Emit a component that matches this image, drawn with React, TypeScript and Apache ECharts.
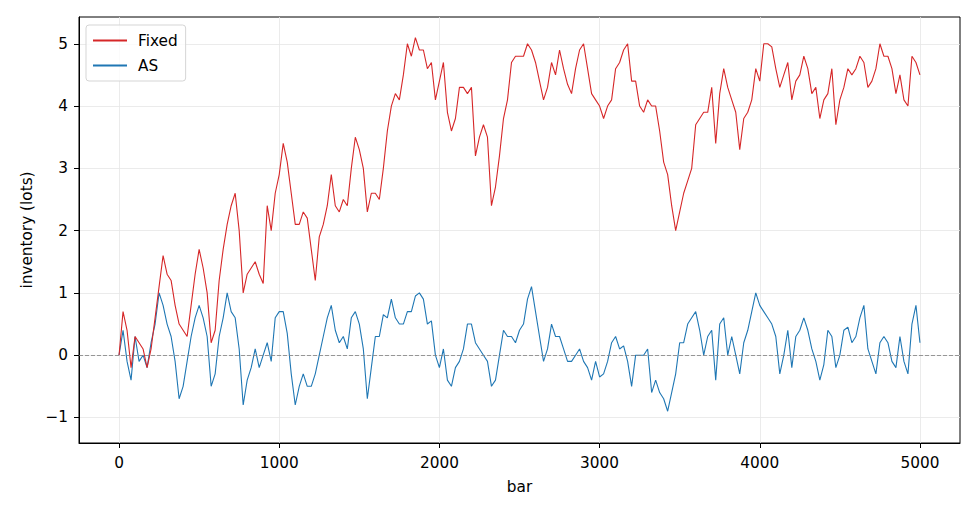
import * as echarts from "echarts";
import { useEffect, useRef } from "react";

const STEP = 25;

const fixedInv = [
  0.0, 0.7, 0.4, -0.2, 0.3, 0.2, 0.1, -0.2,
  0.1, 0.6, 1.1, 1.6, 1.3, 1.2, 0.8, 0.5,
  0.4, 0.3, 0.8, 1.3, 1.7, 1.4, 1.0, 0.2,
  0.4, 1.2, 1.7, 2.1, 2.4, 2.6, 2.0, 1.0,
  1.3, 1.4, 1.5, 1.3, 1.15, 2.4, 2.0, 2.6,
  2.9, 3.4, 3.1, 2.6, 2.1, 2.1, 2.3, 2.2,
  1.7, 1.2, 1.9, 2.1, 2.4, 2.9, 2.4, 2.3,
  2.5, 2.4, 3.0, 3.5, 3.3, 3.0, 2.3, 2.6,
  2.6, 2.5, 3.0, 3.6, 4.0, 4.2, 4.1, 4.5,
  5.0, 4.8, 5.1, 4.9, 4.9, 4.6, 4.7, 4.1,
  4.4, 4.7, 3.9, 3.6, 3.8, 4.3, 4.3, 4.2,
  4.3, 3.2, 3.5, 3.7, 3.5, 2.4, 2.7, 3.2,
  3.8, 4.1, 4.7, 4.8, 4.8, 4.8, 5.0, 4.9,
  4.7, 4.4, 4.1, 4.3, 4.7, 4.5, 4.9, 4.6,
  4.35, 4.2, 4.6, 4.9, 5.0, 4.6, 4.2, 4.1,
  4.0, 3.8, 4.0, 4.1, 4.6, 4.7, 4.9, 5.0,
  4.4, 4.4, 4.0, 3.9, 4.1, 4.0, 4.0, 3.6,
  3.1, 2.9, 2.4, 2.0, 2.3, 2.6, 2.8, 3.0,
  3.7, 3.8, 3.9, 3.9, 4.3, 3.4, 4.2, 4.6,
  4.3, 4.1, 3.9, 3.3, 3.8, 3.9, 4.1, 4.6,
  4.4, 5.0, 5.0, 4.95, 4.6, 4.3, 4.5, 4.7,
  4.1, 4.4, 4.5, 4.8, 4.6, 4.2, 4.3, 3.8,
  4.1, 4.2, 4.6, 3.7, 4.1, 4.3, 4.6, 4.5,
  4.6, 4.8, 4.7, 4.3, 4.4, 4.6, 5.0, 4.8,
  4.8, 4.6, 4.2, 4.5, 4.1, 4.0, 4.8, 4.7,
  4.5,
];

const asInv = [
  0.0, 0.4, -0.1, -0.4, 0.3, -0.1, 0.0, -0.2,
  0.2, 0.5, 1.0, 0.8, 0.5, 0.3, -0.1, -0.7,
  -0.5, -0.1, 0.3, 0.6, 0.8, 0.6, 0.3, -0.5,
  -0.3, 0.3, 0.6, 1.0, 0.7, 0.6, 0.1, -0.8,
  -0.4, -0.2, 0.1, -0.2, 0.0, 0.2, -0.1, 0.6,
  0.7, 0.7, 0.35, -0.3, -0.8, -0.5, -0.3, -0.5,
  -0.5, -0.3, 0.0, 0.3, 0.6, 0.8, 0.4, 0.2,
  0.3, 0.1, 0.6, 0.7, 0.5, 0.1, -0.7, -0.2,
  0.3, 0.3, 0.65, 0.6, 0.9, 0.6, 0.5, 0.5,
  0.7, 0.7, 0.95, 1.0, 0.9, 0.5, 0.55, 0.0,
  -0.2, 0.1, -0.4, -0.5, -0.2, -0.1, 0.1, 0.5,
  0.5, 0.2, 0.1, 0.0, -0.1, -0.5, -0.4, 0.0,
  0.4, 0.3, 0.3, 0.2, 0.4, 0.5, 0.9, 1.1,
  0.7, 0.3, -0.1, 0.1, 0.5, 0.3, 0.3, 0.1,
  -0.1, -0.1, 0.0, 0.1, -0.1, -0.2, -0.4, -0.1,
  -0.35, -0.3, -0.1, 0.2, 0.3, 0.1, 0.15, -0.1,
  -0.5, 0.0, 0.0, 0.0, 0.1, -0.6, -0.4, -0.6,
  -0.7, -0.9, -0.6, -0.3, 0.2, 0.2, 0.5, 0.6,
  0.7, 0.4, 0.0, 0.3, 0.4, -0.4, 0.5, 0.6,
  0.0, 0.3, 0.0, -0.3, 0.2, 0.4, 0.7, 1.0,
  0.8, 0.7, 0.6, 0.5, 0.3, -0.3, 0.0, 0.4,
  -0.2, 0.3, 0.4, 0.6, 0.4, 0.1, -0.1, -0.4,
  -0.15, 0.4, 0.3, -0.2, 0.0, 0.4, 0.45, 0.2,
  0.3, 0.6, 0.8, 0.1, -0.1, -0.3, 0.2, 0.3,
  0.2, -0.1, -0.2, 0.3, -0.1, -0.3, 0.5, 0.8,
  0.2,
];

const xTicks = [0, 1000, 2000, 3000, 4000, 5000];
const yTicks = [-1, 0, 1, 2, 3, 4, 5];

const FONT = "DejaVu Sans";
const FS = 15.3;

const App = () => {
  const chartRef = useRef(null);

  useEffect(() => {
    document.body.style.margin = "0";
    if (!chartRef.current) return;
    const chart = echarts.init(chartRef.current, null, { renderer: "svg" });

    const bars = fixedInv.map((_, i) => i * STEP);
    const fmt = (v: number) => (v < 0 ? "\u2212" + Math.abs(v) : String(v));

    chart.setOption({
      animation: false,
      textStyle: { fontFamily: FONT },
      grid: {
        left: 79,
        top: 17,
        right: 18,
        bottom: 70,
        show: true,
        borderColor: "#000",
        borderWidth: 1,
        backgroundColor: "transparent",
      },
      legend: {
        left: 86,
        top: 25,
        orient: "vertical",
        backgroundColor: "rgba(255,255,255,0.8)",
        borderColor: "#d5d5d5",
        borderWidth: 1,
        borderRadius: 3,
        padding: [8, 8, 8, 7],
        itemGap: 10,
        itemWidth: 34,
        itemHeight: 2,
        textStyle: { fontFamily: FONT, fontSize: FS, color: "#000", padding: [0, 0, 0, 6] },
        data: [
          { name: "Fixed", icon: "rect" },
          { name: "AS", icon: "rect" },
        ],
      },
      xAxis: {
        type: "value",
        min: -250,
        max: 5250,
        name: "bar",
        nameLocation: "middle",
        nameGap: 36,
        nameTextStyle: { fontFamily: FONT, fontSize: FS, color: "#000" },
        axisLine: { show: true, onZero: false, lineStyle: { color: "#000", width: 1 } },
        axisTick: { show: true, inside: false, length: 5, customValues: xTicks, lineStyle: { color: "#000" } },
        axisLabel: { customValues: xTicks, margin: 12, fontFamily: FONT, fontSize: FS, color: "#000", formatter: fmt },
        splitLine: { show: true, lineStyle: { color: "#e6e6e6", width: 0.8 } },
      },
      yAxis: {
        type: "value",
        min: -1.41,
        max: 5.43,
        name: "inventory (lots)",
        nameLocation: "middle",
        nameGap: 45,
        nameTextStyle: { fontFamily: FONT, fontSize: FS, color: "#000" },
        axisLine: { show: true, onZero: false, lineStyle: { color: "#000", width: 1 } },
        axisTick: { show: true, inside: false, length: 5, customValues: yTicks, lineStyle: { color: "#000" } },
        axisLabel: { customValues: yTicks, margin: 11, fontFamily: FONT, fontSize: FS, color: "#000", formatter: fmt },
        splitLine: { show: true, lineStyle: { color: "#e6e6e6", width: 0.8 } },
      },
      series: [
        {
          name: "Fixed",
          type: "line",
          data: bars.map((b, i) => [b, fixedInv[i]]),
          showSymbol: false,
          symbol: "none",
          color: "#d62728",
          lineStyle: { width: 1.1, color: "#d62728" },
          z: 3,
        },
        {
          name: "AS",
          type: "line",
          data: bars.map((b, i) => [b, asInv[i]]),
          showSymbol: false,
          symbol: "none",
          color: "#1f77b4",
          lineStyle: { width: 1.1, color: "#1f77b4" },
          z: 2,
          markLine: {
            silent: true,
            symbol: "none",
            label: { show: false },
            lineStyle: { type: [4, 2], color: "#808080", width: 0.8 },
            data: [{ yAxis: 0 }],
          },
        },
      ],
    });

    return () => {
      chart.dispose();
    };
  }, []);

  return <div ref={chartRef} style={{ width: "978px", height: "513px" }}></div>;
};

export default App;
